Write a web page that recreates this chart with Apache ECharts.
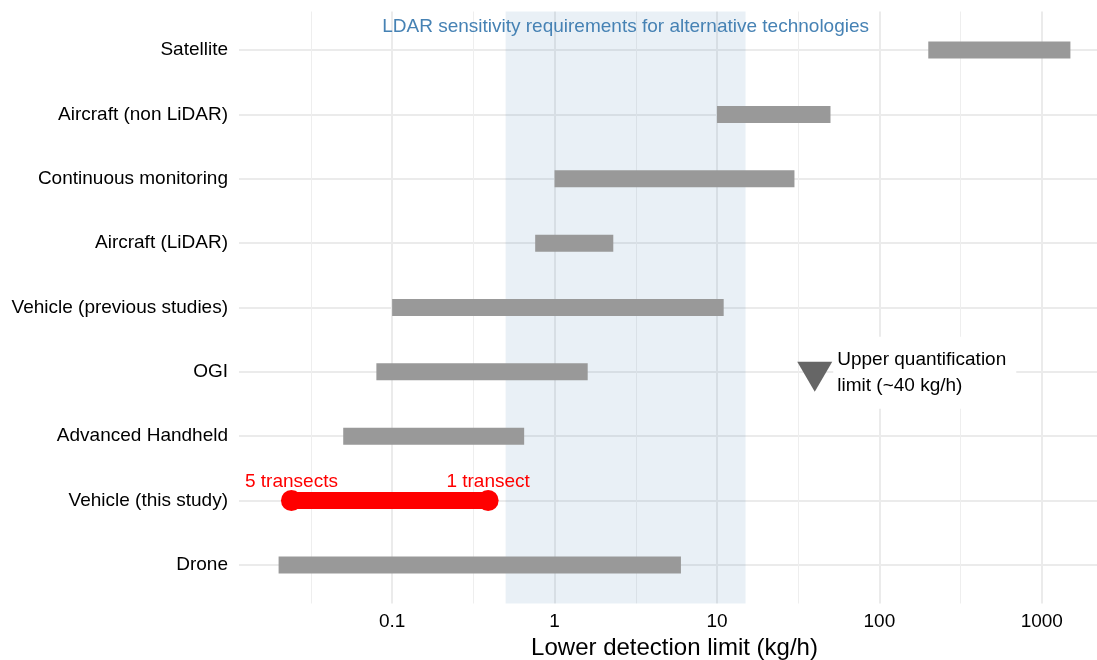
<!DOCTYPE html>
<html>
<head>
<meta charset="utf-8">
<script src="https://cdn.jsdelivr.net/npm/echarts@6/dist/echarts.min.js"></script>
<style>
  html, body { margin: 0; padding: 0; background: #ffffff; }
  #chart { width: 1097px; height: 660px; }
</style>
</head>
<body>
<div id="chart"></div>
<script>
// Detection technologies, listed top to bottom
const categories = [
  'Satellite',
  'Aircraft (non LiDAR)',
  'Continuous monitoring',
  'Aircraft (LiDAR)',
  'Vehicle (previous studies)',
  'OGI',
  'Advanced Handheld',
  'Vehicle (this study)',
  'Drone'
];

// Lower detection limit range per technology (kg/h); null = drawn separately
const rangeLow  = [200, 10, 1, 0.76, 0.1, 0.08, 0.05, null, 0.02];
const rangeHigh = [1500, 50, 30, 2.3, 11, 1.6, 0.65, null, 6];

// This study: detection limit with 5 transects and with 1 transect
const thisStudyValues = [0.024, 0.39];
const thisStudyLabels = ['5 transects', '1 transect'];
const thisStudyRow = 'Vehicle (this study)';

// LDAR sensitivity requirement band (kg/h)
const requirementBand = [0.5, 15];
const requirementText = 'LDAR sensitivity requirements for alternative technologies';

// Upper quantification limit marker
const upperQuantLimit = 40;
const upperQuantRow = 'OGI';
const upperQuantText = 'Upper quantification\nlimit (~40 kg/h)';

// Axis ticks
const xTicks = [0.1, 1, 10, 100, 1000];
const xTitle = 'Lower detection limit (kg/h)';

// ---- layout helpers ----
const FONT = '"Liberation Sans", Arial, Helvetica, sans-serif';
const FS = 19;
const rowIndex = categories.map((_, i) => i);

// log-range with 5% padding on both sides of the data
const allVals = rangeLow.concat(rangeHigh, thisStudyValues).filter(v => v != null);
const lmin = Math.log10(Math.min(...allVals));
const lmax = Math.log10(Math.max(...allVals));
const pad = (lmax - lmin) * 0.05;
const xMin = Math.pow(10, lmin - pad);
const xMax = Math.pow(10, lmax + pad);

// minor gridlines halfway between decades (in log space)
const minorTicks = [];
for (let e = -2; e <= 3; e++) minorTicks.push(Math.pow(10, e + 0.5));

const barData = [];
categories.forEach((c, i) => {
  if (rangeLow[i] != null) barData.push([rangeLow[i], rangeHigh[i], i]);
});
const studyIdx = categories.indexOf(thisStudyRow);
const quantIdx = categories.indexOf(upperQuantRow);

const chart = echarts.init(document.getElementById('chart'), null, { renderer: 'canvas' });

const option = {
  animation: false,
  textStyle: { fontFamily: FONT },
  grid: {
    left: 239,
    width: 871,
    top: 11.5,
    height: 592,
    containLabel: false,
    outerBoundsMode: 'none'
  },
  xAxis: [
    {
      type: 'log',
      min: xMin,
      max: xMax,
      axisLine: { show: false },
      axisTick: { show: false, customValues: xTicks },
      axisLabel: {
        customValues: xTicks,
        formatter: v => String(parseFloat(Number(v).toPrecision(6))),
        fontSize: FS,
        color: '#000',
        margin: 9
      },
      splitLine: { show: true, lineStyle: { color: '#EBEBEB', width: 2 } },
      name: xTitle,
      nameLocation: 'middle',
      nameGap: 32,
      nameTextStyle: { fontSize: 24, color: '#000', fontFamily: FONT }
    },
    {
      type: 'log',
      position: 'top',
      min: xMin,
      max: xMax,
      axisLine: { show: false },
      axisTick: { show: false, customValues: minorTicks },
      axisLabel: { show: false },
      splitLine: { show: true, lineStyle: { color: '#EEEEEE', width: 1 } }
    }
  ],
  yAxis: {
    type: 'value',
    min: -0.6,
    max: 8.6,
    inverse: true,
    axisLine: { show: false },
    axisTick: { show: false, customValues: rowIndex },
    axisLabel: {
      customValues: rowIndex,
      formatter: v => categories[Math.round(v)] || '',
      fontSize: FS,
      color: '#000',
      margin: 11
    },
    splitLine: { show: true, lineStyle: { color: '#EBEBEB', width: 2 } }
  },
  series: [
    {
      // requirement band shading
      type: 'line',
      z: 1,
      data: [],
      markArea: {
        silent: true,
        itemStyle: { color: 'rgba(70,130,180,0.12)' },
        label: {
          show: true,
          position: 'insideTop',
          distance: 5.5,
          color: '#4682B4',
          fontSize: FS,
          fontFamily: FONT
        },
        data: [[{ xAxis: requirementBand[0], name: requirementText }, { xAxis: requirementBand[1] }]]
      }
    },
    {
      // grey detection-limit ranges
      type: 'custom',
      z: 3,
      data: barData,
      encode: { x: [0, 1], y: 2 },
      renderItem: (params, api) => {
        const a = api.coord([api.value(0), api.value(2)]);
        const b = api.coord([api.value(1), api.value(2)]);
        return {
          type: 'rect',
          shape: { x: a[0], y: a[1] - 8.5, width: b[0] - a[0], height: 17 },
          style: { fill: '#999999' }
        };
      }
    },
    {
      // this study: red range
      type: 'custom',
      z: 4,
      data: [[thisStudyValues[0], thisStudyValues[1], studyIdx]],
      encode: { x: [0, 1], y: 2 },
      renderItem: (params, api) => {
        const a = api.coord([api.value(0), api.value(2)]);
        const b = api.coord([api.value(1), api.value(2)]);
        return {
          type: 'line',
          shape: { x1: a[0], y1: a[1], x2: b[0], y2: b[1] },
          style: { stroke: '#FF0000', lineWidth: 17 }
        };
      }
    },
    {
      // this study: end points with labels
      type: 'scatter',
      z: 5,
      symbol: 'circle',
      symbolSize: 21,
      itemStyle: { color: '#FF0000', opacity: 1 },
      data: thisStudyValues.map(v => [v, studyIdx]),
      label: {
        show: true,
        position: 'top',
        distance: -1,
        formatter: p => thisStudyLabels[p.dataIndex],
        color: '#FF0000',
        fontSize: FS,
        fontFamily: FONT
      }
    },
    {
      // upper quantification limit marker
      type: 'scatter',
      z: 6,
      symbol: 'triangle',
      symbolRotate: 180,
      symbolSize: [35, 30],
      symbolOffset: [0, 5],
      itemStyle: { color: '#666666', opacity: 1 },
      data: [[upperQuantLimit, quantIdx]],
      label: {
        show: true,
        position: 'right',
        distance: 1,
        offset: [0, -4],
        formatter: upperQuantText,
        align: 'left',
        color: '#000',
        fontSize: FS,
        lineHeight: 26,
        fontFamily: FONT,
        backgroundColor: '#ffffff',
        padding: [9, 10, 11, 4]
      }
    }
  ]
};

chart.setOption(option);
</script>
</body>
</html>
